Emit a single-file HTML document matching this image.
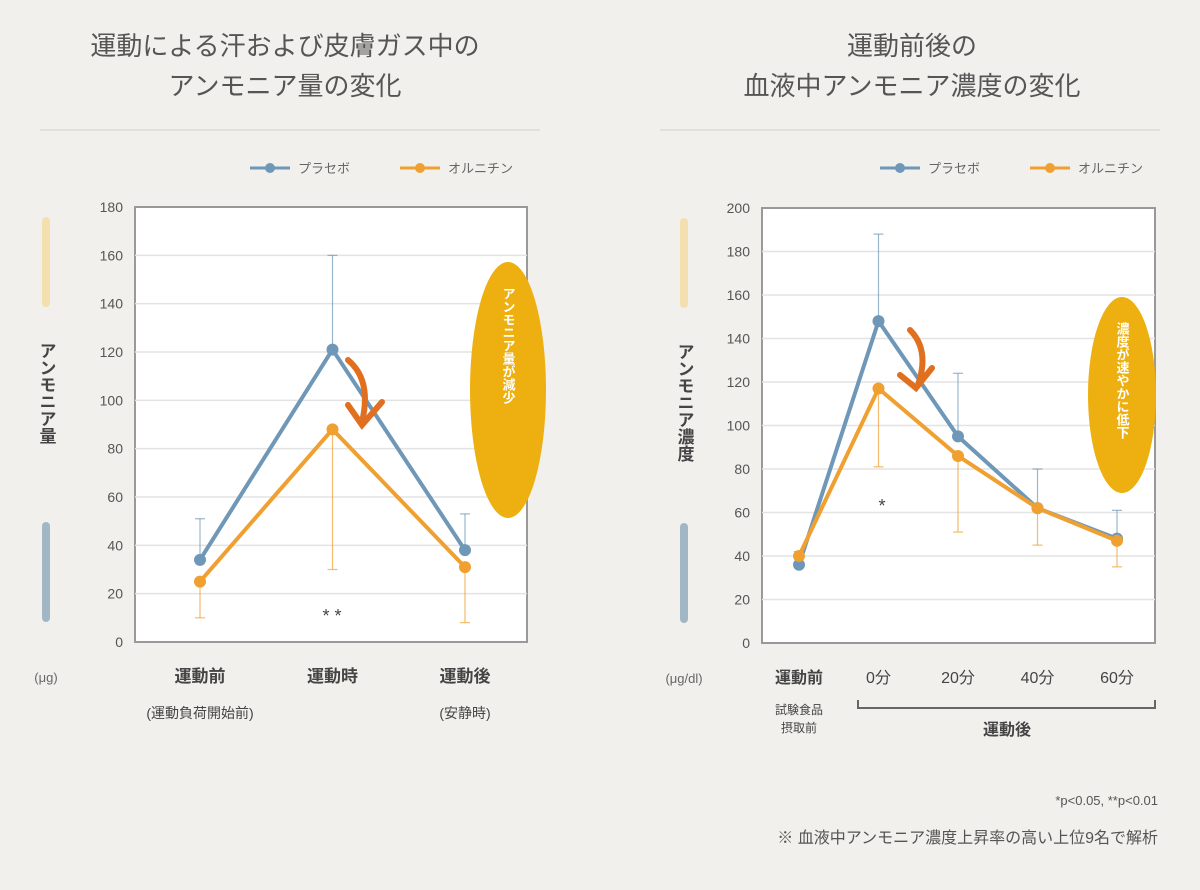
<!DOCTYPE html>
<html><head><meta charset="utf-8">
<style>
html,body{margin:0;padding:0;background:#f1f0ec;}
body{width:1200px;height:885px;overflow:hidden;font-family:"Liberation Sans","Noto Sans CJK JP",sans-serif;}
svg text{font-family:"Liberation Sans","Noto Sans CJK JP",sans-serif;}
</style></head>
<body>
<svg id="c" width="1200" height="885" xmlns="http://www.w3.org/2000/svg">
<text x="285" y="55" text-anchor="middle" font-size="26" fill="#555">運動による汗および皮膚ガス中の</text>
<text x="285" y="95" text-anchor="middle" font-size="26" fill="#555">アンモニア量の変化</text>
<text x="912" y="55" text-anchor="middle" font-size="26" fill="#555">運動前後の</text>
<text x="912" y="95" text-anchor="middle" font-size="26" fill="#555">血液中アンモニア濃度の変化</text>
<line x1="40" y1="130" x2="540" y2="130" stroke="#e2e0da" stroke-width="2"/>
<line x1="660" y1="130" x2="1160" y2="130" stroke="#e2e0da" stroke-width="2"/>
<text x="1158" y="805" text-anchor="end" font-size="13" fill="#555">*p&lt;0.05, **p&lt;0.01</text>
<text x="1158" y="843" text-anchor="end" font-size="16" fill="#555">※ 血液中アンモニア濃度上昇率の高い上位9名で解析</text>
</svg>
<script>
const leftCats=["運動前","運動時","運動後"];
const leftSub=["(運動負荷開始前)","","(安静時)"];
const leftPlacebo=[34,121,38];
const leftOrn=[25,88,31];
const leftPlaceboErr=[17,39,15];
const leftOrnErr=[15,58,23];
const leftTicks=[0,20,40,60,80,100,120,140,160,180];

const rightCats=["運動前","0分","20分","40分","60分"];
const rightPlacebo=[36,148,95,62,48];
const rightOrn=[40,117,86,62,47];
const rightPlaceboErr=[6,40,29,18,13];
const rightOrnErr=[5,36,35,17,12];
const rightTicks=[0,20,40,60,80,100,120,140,160,180,200];

const svg=document.getElementById('c');
const NS="http://www.w3.org/2000/svg";
function mk(tag,attrs,parent){const e=document.createElementNS(NS,tag);for(const k in attrs)e.setAttribute(k,attrs[k]);(parent||svg).appendChild(e);return e;}
const BLUE="#6f98b8",ORANGE="#f0a030";

function chart(o){
  const g=mk('g',{});
  
  
  const y=v=>o.y0-(v/o.max)*(o.y0-o.y1);
  const x=i=>o.xs[0]+i*(o.xs[1]-o.xs[0])/(o.n-1);
  const bg=mk('rect',{x:o.x0,y:o.y1,width:o.x1-o.x0,height:o.y0-o.y1,fill:'#fff',stroke:'#999','stroke-width':2},g);
  
  
  o.ticks.forEach(t=>{
    if(t>0&&t<o.max){const l=mk('line',{x1:o.x0,x2:o.x1,y1:y(t),y2:y(t),stroke:'#e3e3e3','stroke-width':1.5},g);
    
    }
    const tx=mk('text',{x:o.x0-12,y:y(t)+5,'text-anchor':'end','font-size':14,fill:'#555'},g);
    tx.textContent=t;
    
    
  });
  [[o.pl,o.plErr,BLUE,1,'placebo'],[o.or,o.orErr,ORANGE,-1,'ornithine']].forEach(s=>{
    s[0].forEach((v,i)=>{
      const e=mk('line',{x1:x(i),x2:x(i),y1:y(v),y2:y(v+s[3]*s[1][i]),stroke:s[2],'stroke-width':1.2,opacity:0.7},g);
      
      
      const c=mk('line',{x1:x(i)-5,x2:x(i)+5,y1:y(v+s[3]*s[1][i]),y2:y(v+s[3]*s[1][i]),stroke:s[2],'stroke-width':1.2,opacity:0.7},g);
      
      
    });
  });
  [[o.pl,BLUE,'placebo'],[o.or,ORANGE,'ornithine']].forEach(s=>{
    const p=mk('polyline',{points:s[0].map((v,i)=>x(i)+','+y(v)).join(' '),fill:'none',stroke:s[1],'stroke-width':4,'stroke-linejoin':'miter'},g);
    
    
    s[0].forEach((v,i)=>{const m=mk('circle',{cx:x(i),cy:y(v),r:6,fill:s[1]},g);
      
      });
  });
  o.cats.forEach((c,i)=>{
    const t=mk('text',{x:x(i),y:o.y0+40,'text-anchor':'middle','font-size':o.catSize,'font-weight':o.boldIdx.includes(i)?'bold':'normal',fill:'#444'},g);
    t.textContent=c;
    
    
  });
  // legend
  const lx=o.legX;
  [[BLUE,'プラセボ',0],[ORANGE,'オルニチン',150]].forEach(L=>{
    const l=mk('line',{x1:lx+L[2],x2:lx+L[2]+40,y1:168,y2:168,stroke:L[0],'stroke-width':3},g);
    
    
    const d=mk('circle',{cx:lx+L[2]+20,cy:168,r:5,fill:L[0]},g);
    
    
    const t=mk('text',{x:lx+L[2]+48,y:173,'font-size':13,fill:'#666'},g);
    t.textContent=L[1];
    
    
  });
  // gradient axis bar
  const gb1=mk('rect',{x:o.barX,y:o.y1+10,width:8,height:90,rx:4,fill:'#f5dca0',opacity:0.8},g);
  
  
  const gb2=mk('rect',{x:o.barX,y:o.y0-120,width:8,height:100,rx:4,fill:'#8fa9bd',opacity:0.8},g);
  
  
  const yt=mk('text',{x:o.barX+4,y:o.y1+135,'font-size':17,'font-weight':'bold',fill:'#444','writing-mode':'tb','glyph-orientation-vertical':0},g);
  yt.textContent=o.ytitle;
  
  
  const u=mk('text',{x:o.barX+4,y:o.y0+40,'text-anchor':'middle','font-size':13,fill:'#666'},g);
  u.textContent=o.unit;
  
  
  // callout ellipse
  const el=mk('ellipse',{cx:o.ell[0],cy:o.ell[1],rx:o.ell[2],ry:o.ell[3],fill:'#eeb010'},g);
  
  
  const ct=mk('text',{x:o.ell[0],y:o.ell[1]-o.ell[3]+25,'font-size':13,'font-weight':'bold',fill:'#fff','writing-mode':'tb'},g);
  ct.textContent=o.callout;
  
  
  // arrow
  const ar=mk('path',{d:o.arrow,fill:'none',stroke:'#e07020','stroke-width':6,'stroke-linecap':'round'},g);
  
  
  return {x,y,g};
}

const L=chart({name:'left-chart',x0:135,x1:527,y0:642,y1:207,max:180,ticks:leftTicks,n:3,xs:[200,465],
  pl:leftPlacebo,or:leftOrn,plErr:leftPlaceboErr,orErr:leftOrnErr,cats:leftCats,catSize:17,boldIdx:[0,1,2],
  legX:250,barX:42,ytitle:'アンモニア量',unit:'(μg)',ell:[508,390,38,128],callout:'アンモニア量が減少',
  arrow:'M348,360 Q372,380 362,422 M348,405 L362,425 L382,402'});
leftSub.forEach((s,i)=>{if(!s)return;
  const t=mk('text',{x:L.x(i),y:718,'text-anchor':'middle','font-size':14,fill:'#444'},L.g);
  t.textContent=s;
  
  });
const st=mk('text',{x:332,y:622,'text-anchor':'middle','font-size':18,fill:'#444'},L.g);
st.textContent='* *';



const R=chart({name:'right-chart',x0:762,x1:1155,y0:643,y1:208,max:200,ticks:rightTicks,n:5,xs:[799,1117],
  pl:rightPlacebo,or:rightOrn,plErr:rightPlaceboErr,orErr:rightOrnErr,cats:rightCats,catSize:16,boldIdx:[0],
  legX:880,barX:680,ytitle:'アンモニア濃度',unit:'(μg/dl)',ell:[1122,395,34,98],callout:'濃度が速やかに低下',
  arrow:'M910,330 Q930,350 918,385 M900,375 L916,388 L932,368'});
const rs=mk('text',{x:882,y:512,'text-anchor':'middle','font-size':18,fill:'#444'},R.g);
rs.textContent='*';


const br=mk('path',{d:'M858,700 L858,708 L1155,708 L1155,700',fill:'none',stroke:'#666','stroke-width':2},R.g);


const bl=mk('text',{x:1007,y:735,'text-anchor':'middle','font-size':16,'font-weight':'bold',fill:'#444'},R.g);
bl.textContent='運動後';


['試験食品','摂取前'].forEach((s,i)=>{const t=mk('text',{x:799,y:714+i*18,'text-anchor':'middle','font-size':12,fill:'#444'},R.g);
  t.textContent=s;
  
  });
</script>
</body></html>
